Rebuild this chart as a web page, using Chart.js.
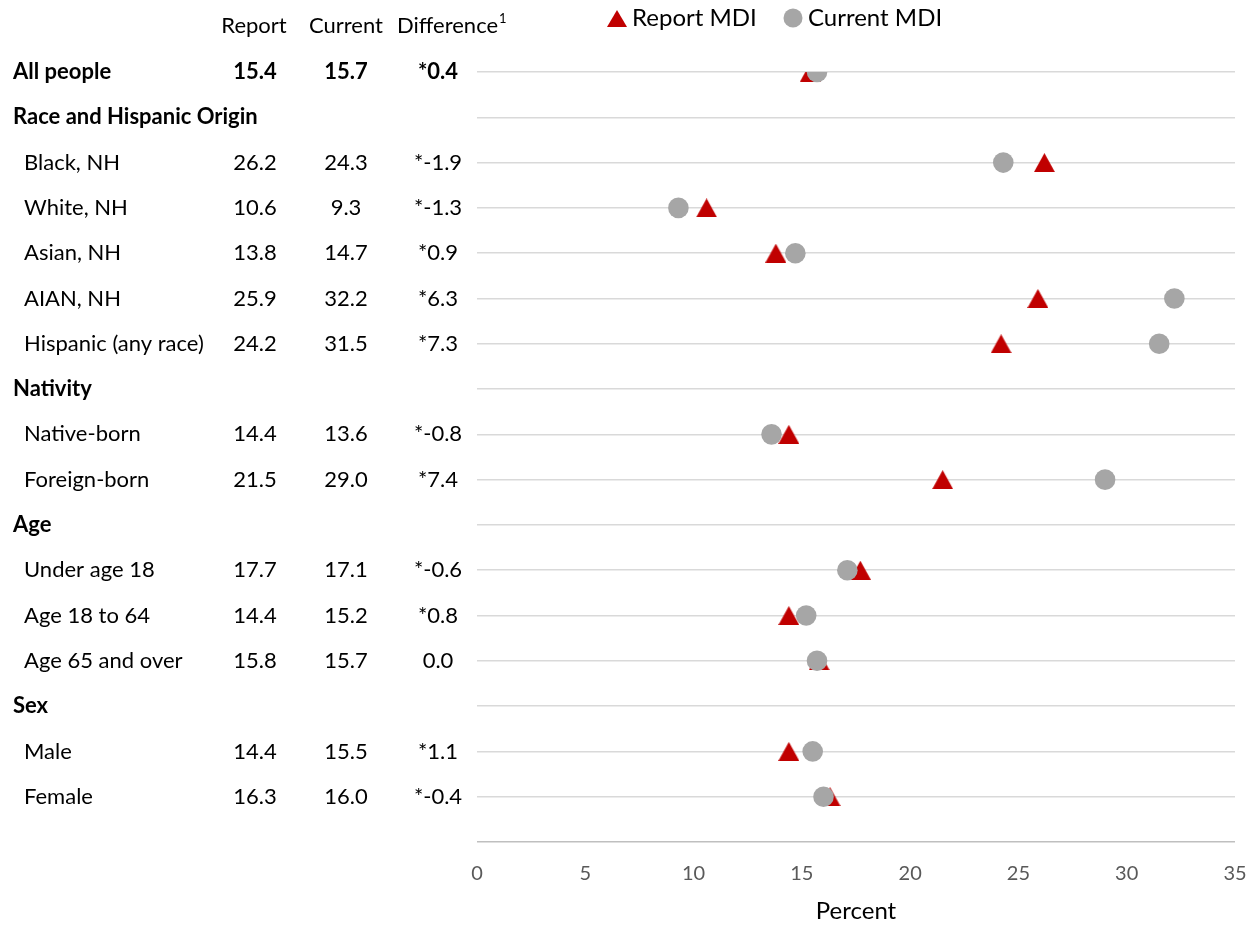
<!DOCTYPE html>
<html>
<head>
<meta charset="utf-8">
<script src="https://cdn.jsdelivr.net/npm/chart.js@4/dist/chart.umd.min.js"></script>
<style>
  html, body { margin: 0; padding: 0; background: #fff; }
  #wrap { width: 1258px; height: 926px; position: relative; }
</style>
</head>
<body>
<div id="wrap"><canvas id="c" width="1258" height="926"></canvas></div>
<script>
// ---- Data ----
const categories = [
  "All people", "Race and Hispanic Origin", "Black, NH", "White, NH", "Asian, NH",
  "AIAN, NH", "Hispanic (any race)", "Nativity", "Native-born", "Foreign-born",
  "Age", "Under age 18", "Age 18 to 64", "Age 65 and over", "Sex", "Male", "Female"
];
const isHeader = [true, true, false, false, false, false, false, true, false, false, true, false, false, false, true, false, false];
const isBoldRow = [true, false, false, false, false, false, false, false, false, false, false, false, false, false, false, false, false];
const reportMDI  = [15.4, null, 26.2, 10.6, 13.8, 25.9, 24.2, null, 14.4, 21.5, null, 17.7, 14.4, 15.8, null, 14.4, 16.3];
const currentMDI = [15.7, null, 24.3,  9.3, 14.7, 32.2, 31.5, null, 13.6, 29.0, null, 17.1, 15.2, 15.7, null, 15.5, 16.0];
const difference = ["*0.4", "", "*-1.9", "*-1.3", "*0.9", "*6.3", "*7.3", "", "*-0.8", "*7.4", "", "*-0.6", "*0.8", "0.0", "", "*1.1", "*-0.4"];
const columnHeaders = ["Report", "Current", "Difference"];
const legendLabels = ["Report MDI", "Current MDI"];
const xTicks = [0, 5, 10, 15, 20, 25, 30, 35];

const FONT = "Lato, 'Open Sans', sans-serif";
const RED = "#c00000";
const GRAY = "#a6a6a6";

function toPoints(arr) {
  const pts = [];
  arr.forEach((v, i) => { if (v !== null) pts.push({ x: v, y: i }); });
  return pts;
}

// triangle marker image, centred on its bounding box
const tri = document.createElement('canvas');
tri.width = 21; tri.height = 19;
(function () {
  const t = tri.getContext('2d');
  t.fillStyle = RED;
  t.beginPath();
  t.moveTo(10.5, 0); t.lineTo(21, 19); t.lineTo(0, 19); t.closePath();
  t.fill();
})();

const tablePlugin = {
  id: 'tablePlugin',
  afterDraw(chart) {
    const ctx = chart.ctx;
    const y = chart.scales.y;
    ctx.save();
    ctx.fillStyle = '#000';
    ctx.textBaseline = 'middle';
    // column headers
    ctx.font = "22px " + FONT;
    ctx.textAlign = 'center';
    ctx.fillText(columnHeaders[0], 254, 26);
    ctx.fillText(columnHeaders[1], 346, 26);
    ctx.textAlign = 'left';
    ctx.fillText(columnHeaders[2], 397, 26);
    const dw = ctx.measureText(columnHeaders[2]).width;
    ctx.font = "13px " + FONT;
    ctx.fillText("1", 397 + dw + 1, 19);
    // rows
    categories.forEach((cat, i) => {
      const py = y.getPixelForValue(i);
      const bold = isHeader[i];
      ctx.font = (bold ? "bold " : "") + "22px " + FONT;
      ctx.textAlign = 'left';
      ctx.fillText(cat, bold ? 13 : 24, py);
      if (reportMDI[i] !== null) {
        ctx.font = (isBoldRow[i] ? "bold " : "") + "22px " + FONT;
        ctx.textAlign = 'center';
        ctx.fillText(reportMDI[i].toFixed(1), 255, py);
        ctx.fillText(currentMDI[i].toFixed(1), 346, py);
        ctx.fillText(difference[i], 438, py);
      }
    });
    // legend
    ctx.fillStyle = RED;
    ctx.beginPath();
    ctx.moveTo(617, 10); ctx.lineTo(627, 27); ctx.lineTo(607, 27); ctx.closePath();
    ctx.fill();
    ctx.fillStyle = GRAY;
    ctx.beginPath();
    ctx.arc(793, 18, 9.5, 0, Math.PI * 2);
    ctx.fill();
    ctx.fillStyle = '#000';
    ctx.font = "24px " + FONT;
    ctx.textAlign = 'left';
    ctx.fillText(legendLabels[0], 632, 18);
    ctx.fillText(legendLabels[1], 808, 18);
    ctx.restore();
  }
};

new Chart(document.getElementById('c'), {
  type: 'scatter',
  data: {
    datasets: [
      {
        label: 'Current MDI',
        data: toPoints(currentMDI),
        pointStyle: 'circle',
        pointRadius: 10.3,
        pointHoverRadius: 10.3,
        backgroundColor: GRAY,
        borderColor: GRAY,
        borderWidth: 0,
        order: 0
      },
      {
        label: 'Report MDI',
        data: toPoints(reportMDI),
        pointStyle: tri,
        pointRadius: 11,
        pointHoverRadius: 11,
        backgroundColor: RED,
        borderColor: RED,
        borderWidth: 0,
        order: 1
      }
    ]
  },
  options: {
    responsive: false,
    animation: false,
    events: [],
    layout: { padding: { left: 477, right: 23, top: 72, bottom: 0 } },
    plugins: { legend: { display: false }, tooltip: { enabled: false } },
    scales: {
      x: {
        type: 'linear',
        min: 0, max: 35,
        afterBuildTicks(scale) { scale.ticks = xTicks.map(v => ({ value: v })); },
        afterFit(scale) { scale.height = 84; scale.paddingRight = 0; scale.paddingLeft = 0; },
        grid: { display: false, drawTicks: false },
        border: { display: false },
        ticks: { color: '#595959', font: { family: FONT, size: 20 }, padding: 20, maxRotation: 0 },
        title: { display: true, text: 'Percent', color: '#000', font: { family: FONT, size: 24 }, padding: { top: 0, bottom: 0 } }
      },
      y: {
        type: 'linear',
        min: 0, max: 17,
        reverse: true,
        afterBuildTicks(scale) {
          const t = []; for (let i = 0; i <= 17; i++) t.push({ value: i }); scale.ticks = t;
        },
        afterFit(scale) { scale.width = 0; scale.paddingTop = 0; scale.paddingBottom = 0; },
        grid: {
          drawTicks: false,
          color: ctx => ctx.tick && ctx.tick.value === 17 ? '#bfbfbf' : '#d9d9d9',
          lineWidth: 1.5
        },
        border: { display: false },
        ticks: { display: false }
      }
    }
  },
  plugins: [tablePlugin]
});
</script>
</body>
</html>
